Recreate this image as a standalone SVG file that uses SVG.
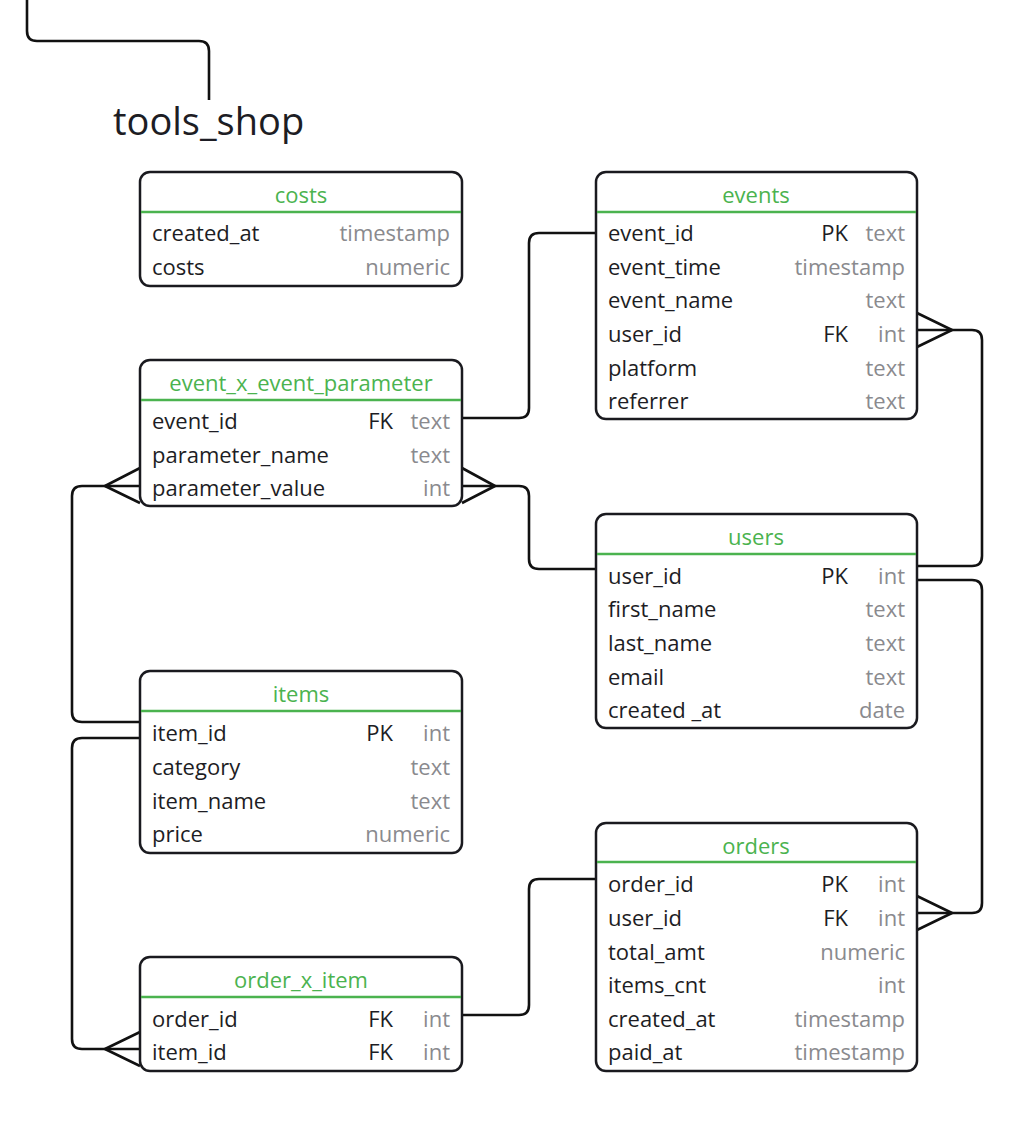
<svg xmlns="http://www.w3.org/2000/svg" width="1020" height="1138" viewBox="0 0 1020 1138">
<style>
.box{fill:#fff;stroke:#1a1a1f;stroke-width:2.5}
.hl{stroke:#4bb34f;stroke-width:2.5}
.hd{font-family:"Open Sans","Noto Sans",sans-serif;font-size:22px;fill:#4bb34f;text-anchor:middle}
.n{font-family:"Open Sans","Noto Sans",sans-serif;font-size:22px;fill:#1d1d24}
.k{font-family:"Open Sans","Noto Sans",sans-serif;font-size:22px;fill:#1d1d24;text-anchor:end}
.t{font-family:"Open Sans","Noto Sans",sans-serif;font-size:22px;fill:#8a8a8e;text-anchor:end}
.c{fill:none;stroke:#111;stroke-width:2.6;stroke-linejoin:round}
</style>
<rect width="1020" height="1138" fill="#fff"/>
<g id="connectors">
<path class="c" d="M27,0 V31 Q27,41 37,41 H199 Q209,41 209,51 V100"/>
<path class="c" d="M462,418 H519 Q529,418 529,408 V243 Q529,233 539,233 H596"/>
<path class="c" d="M917,330 H972 Q982,330 982,340 V556 Q982,566 972,566 H917"/>
<path class="c" d="M917,313 L952,330 L917,347"/>
<path class="c" d="M917,580 H972 Q982,580 982,590 V903 Q982,913 972,913 H917"/>
<path class="c" d="M917,896 L952,913 L917,930"/>
<path class="c" d="M462,486 H519 Q529,486 529,496 V559 Q529,569 539,569 H596"/>
<path class="c" d="M462,468 L495,486 L462,503"/>
<path class="c" d="M140,486 H82 Q72,486 72,496 V712 Q72,722 82,722 H140"/>
<path class="c" d="M140,468 L105,486 L140,503"/>
<path class="c" d="M140,738 H82 Q72,738 72,748 V1039 Q72,1049 82,1049 H140"/>
<path class="c" d="M140,1032 L105,1049 L140,1066"/>
<path class="c" d="M462,1015 H519 Q529,1015 529,1005 V889 Q529,879 539,879 H596"/>
</g>
<text x="113" y="135" font-family="Open Sans, Noto Sans, sans-serif" font-size="38" fill="#1d1d24">tools_shop</text>
<g id="costs">
<rect class="box" x="140" y="172" width="322" height="114" rx="10"/>
<line class="hl" x1="141" y1="212" x2="461" y2="212"/>
<text class="hd" x="301" y="203">costs</text>
<text class="n" x="152" y="241">created_at</text><text class="t" x="450" y="241">timestamp</text>
<text class="n" x="152" y="275">costs</text><text class="t" x="450" y="275">numeric</text>
</g>
<g id="events">
<rect class="box" x="596" y="172" width="321" height="247" rx="10"/>
<line class="hl" x1="597" y1="212" x2="916" y2="212"/>
<text class="hd" x="756" y="203">events</text>
<text class="n" x="608" y="241">event_id</text><text class="k" x="848" y="241">PK</text><text class="t" x="905" y="241">text</text>
<text class="n" x="608" y="275">event_time</text><text class="t" x="905" y="275">timestamp</text>
<text class="n" x="608" y="308">event_name</text><text class="t" x="905" y="308">text</text>
<text class="n" x="608" y="342">user_id</text><text class="k" x="848" y="342">FK</text><text class="t" x="905" y="342">int</text>
<text class="n" x="608" y="376">platform</text><text class="t" x="905" y="376">text</text>
<text class="n" x="608" y="409">referrer</text><text class="t" x="905" y="409">text</text>
</g>
<g id="event_x_event_parameter">
<rect class="box" x="140" y="360" width="322" height="146" rx="10"/>
<line class="hl" x1="141" y1="400" x2="461" y2="400"/>
<text class="hd" x="301" y="391">event_x_event_parameter</text>
<text class="n" x="152" y="429">event_id</text><text class="k" x="393" y="429">FK</text><text class="t" x="450" y="429">text</text>
<text class="n" x="152" y="463">parameter_name</text><text class="t" x="450" y="463">text</text>
<text class="n" x="152" y="496">parameter_value</text><text class="t" x="450" y="496">int</text>
</g>
<g id="users">
<rect class="box" x="596" y="514" width="321" height="214" rx="10"/>
<line class="hl" x1="597" y1="554" x2="916" y2="554"/>
<text class="hd" x="756" y="545">users</text>
<text class="n" x="608" y="584">user_id</text><text class="k" x="848" y="584">PK</text><text class="t" x="905" y="584">int</text>
<text class="n" x="608" y="617">first_name</text><text class="t" x="905" y="617">text</text>
<text class="n" x="608" y="651">last_name</text><text class="t" x="905" y="651">text</text>
<text class="n" x="608" y="685">email</text><text class="t" x="905" y="685">text</text>
<text class="n" x="608" y="718">created _at</text><text class="t" x="905" y="718">date</text>
</g>
<g id="items">
<rect class="box" x="140" y="671" width="322" height="182" rx="10"/>
<line class="hl" x1="141" y1="711" x2="461" y2="711"/>
<text class="hd" x="301" y="702">items</text>
<text class="n" x="152" y="741">item_id</text><text class="k" x="393" y="741">PK</text><text class="t" x="450" y="741">int</text>
<text class="n" x="152" y="775">category</text><text class="t" x="450" y="775">text</text>
<text class="n" x="152" y="809">item_name</text><text class="t" x="450" y="809">text</text>
<text class="n" x="152" y="842">price</text><text class="t" x="450" y="842">numeric</text>
</g>
<g id="orders">
<rect class="box" x="596" y="823" width="321" height="248" rx="10"/>
<line class="hl" x1="597" y1="862" x2="916" y2="862"/>
<text class="hd" x="756" y="854">orders</text>
<text class="n" x="608" y="892">order_id</text><text class="k" x="848" y="892">PK</text><text class="t" x="905" y="892">int</text>
<text class="n" x="608" y="926">user_id</text><text class="k" x="848" y="926">FK</text><text class="t" x="905" y="926">int</text>
<text class="n" x="608" y="960">total_amt</text><text class="t" x="905" y="960">numeric</text>
<text class="n" x="608" y="993">items_cnt</text><text class="t" x="905" y="993">int</text>
<text class="n" x="608" y="1027">created_at</text><text class="t" x="905" y="1027">timestamp</text>
<text class="n" x="608" y="1060">paid_at</text><text class="t" x="905" y="1060">timestamp</text>
</g>
<g id="order_x_item">
<rect class="box" x="140" y="957" width="322" height="114" rx="10"/>
<line class="hl" x1="141" y1="997" x2="461" y2="997"/>
<text class="hd" x="301" y="988">order_x_item</text>
<text class="n" x="152" y="1027">order_id</text><text class="k" x="393" y="1027">FK</text><text class="t" x="450" y="1027">int</text>
<text class="n" x="152" y="1060">item_id</text><text class="k" x="393" y="1060">FK</text><text class="t" x="450" y="1060">int</text>
</g>
</svg>
